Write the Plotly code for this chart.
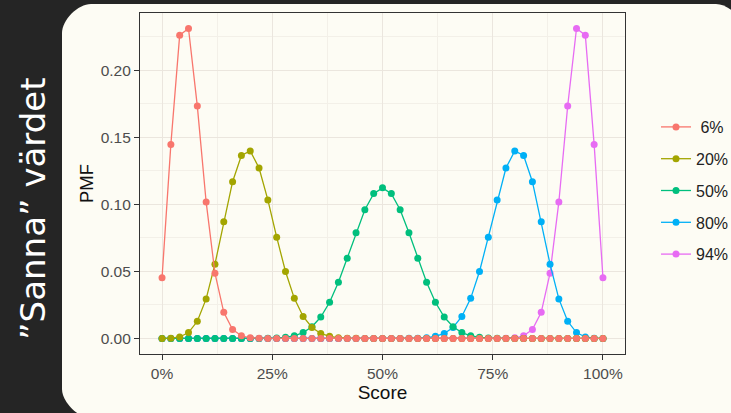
import plotly.graph_objects as go

# Binomial PMF of the score (n = 50 items) for five true values
score = [0, 2, 4, 6, 8, 10, 12, 14, 16, 18, 20, 22, 24, 26, 28, 30, 32, 34, 36, 38,
         40, 42, 44, 46, 48, 50, 52, 54, 56, 58, 60, 62, 64, 66, 68, 70, 72, 74, 76, 78,
         80, 82, 84, 86, 88, 90, 92, 94, 96, 98, 100]

pmf_06 = [0.0453, 0.1447, 0.2262, 0.2311, 0.1733, 0.1018, 0.0487, 0.0195, 0.0067, 0.0020,
          0.0005, 0.0001, 0.0, 0.0, 0.0, 0.0, 0.0, 0.0, 0.0, 0.0,
          0.0, 0.0, 0.0, 0.0, 0.0, 0.0, 0.0, 0.0, 0.0, 0.0,
          0.0, 0.0, 0.0, 0.0, 0.0, 0.0, 0.0, 0.0, 0.0, 0.0,
          0.0, 0.0, 0.0, 0.0, 0.0, 0.0, 0.0, 0.0, 0.0, 0.0, 0.0]

pmf_20 = [0.0000, 0.0002, 0.0011, 0.0044, 0.0128, 0.0295, 0.0554, 0.0870, 0.1169, 0.1364,
          0.1398, 0.1271, 0.1033, 0.0755, 0.0499, 0.0299, 0.0164, 0.0082, 0.0037, 0.0016,
          0.0006, 0.0002, 0.0001, 0.0, 0.0, 0.0, 0.0, 0.0, 0.0, 0.0,
          0.0, 0.0, 0.0, 0.0, 0.0, 0.0, 0.0, 0.0, 0.0, 0.0,
          0.0, 0.0, 0.0, 0.0, 0.0, 0.0, 0.0, 0.0, 0.0, 0.0, 0.0]

pmf_50 = [0.0, 0.0, 0.0, 0.0, 0.0, 0.0, 0.0, 0.0, 0.0, 0.0,
          0.0, 0.0, 0.0001, 0.0003, 0.0008, 0.0020, 0.0044, 0.0087, 0.0160, 0.0270,
          0.0419, 0.0598, 0.0788, 0.0960, 0.1080, 0.1123, 0.1080, 0.0960, 0.0788, 0.0598,
          0.0419, 0.0270, 0.0160, 0.0087, 0.0044, 0.0020, 0.0008, 0.0003, 0.0001, 0.0,
          0.0, 0.0, 0.0, 0.0, 0.0, 0.0, 0.0, 0.0, 0.0, 0.0, 0.0]

pmf_80 = [0.0, 0.0, 0.0, 0.0, 0.0, 0.0, 0.0, 0.0, 0.0, 0.0,
          0.0, 0.0, 0.0, 0.0, 0.0, 0.0, 0.0, 0.0, 0.0, 0.0,
          0.0, 0.0, 0.0, 0.0, 0.0, 0.0, 0.0, 0.0, 0.0001, 0.0002,
          0.0006, 0.0016, 0.0037, 0.0082, 0.0164, 0.0299, 0.0499, 0.0755, 0.1033, 0.1271,
          0.1398, 0.1364, 0.1169, 0.0870, 0.0554, 0.0295, 0.0128, 0.0044, 0.0011, 0.0002, 0.0000]

pmf_94 = [0.0, 0.0, 0.0, 0.0, 0.0, 0.0, 0.0, 0.0, 0.0, 0.0,
          0.0, 0.0, 0.0, 0.0, 0.0, 0.0, 0.0, 0.0, 0.0, 0.0,
          0.0, 0.0, 0.0, 0.0, 0.0, 0.0, 0.0, 0.0, 0.0, 0.0,
          0.0, 0.0, 0.0, 0.0, 0.0, 0.0, 0.0, 0.0, 0.0, 0.0001,
          0.0005, 0.0020, 0.0067, 0.0195, 0.0487, 0.1018, 0.1733, 0.2311, 0.2262, 0.1447, 0.0453]

series_names = [" 6%", "20%", "50%", "80%", "94%"]
series_values = [pmf_06, pmf_20, pmf_50, pmf_80, pmf_94]
series_colors = ["#F8766D", "#A3A500", "#00BF7D", "#00B0F6", "#E76BF3"]

x_ticks = [0, 25, 50, 75, 100]
x_ticklabels = ["0%", "25%", "50%", "75%", "100%"]
y_ticks = [0.00, 0.05, 0.10, 0.15, 0.20]
y_ticklabels = ["0.00", "0.05", "0.10", "0.15", "0.20"]

W, H = 731, 413
ML, MR, MT, MB = 140, 106, 13, 59
PW, PH = W - ML - MR, H - MT - MB

DARK = "#252525"
CREAM = "#FDFCF4"
FONT = "Liberation Sans, Arial, sans-serif"


def px(xp):
    return (xp - ML) / PW


def py(yp):
    return (H - MB - yp) / PH


def pt(xp, yp):
    return f"{px(xp)},{py(yp)}"


fig = go.Figure()

# draw in reverse so the 6% curve sits on top, legend keeps ascending order
for rank in reversed(range(len(series_names))):
    fig.add_trace(go.Scatter(
        x=score, y=series_values[rank], name=series_names[rank],
        mode="lines+markers",
        line=dict(color=series_colors[rank], width=1.3),
        marker=dict(color=series_colors[rank], size=7),
        legendrank=rank + 1, legendgroup=series_names[rank],
    ))

# rounded cream card behind the chart (bottom-right runs off the page)
x0, y0, x1, y1, r = 62, 4, 745, 418, 29
k = 0.45 * r
card = (f"M {pt(x0, y0 + r)} "
        f"C {pt(x0, y0 + r - k)} {pt(x0 + r - k, y0)} {pt(x0 + r, y0)} "
        f"L {pt(x1 - r, y0)} "
        f"C {pt(x1 - r + k, y0)} {pt(x1, y0 + r - k)} {pt(x1, y0 + r)} "
        f"L {pt(x1, y1)} "
        f"L {pt(x0 + r, y1)} "
        f"C {pt(x0 + r - k, y1)} {pt(x0, y1 - r + k)} {pt(x0, y1 - r)} Z")
fig.add_shape(type="path", path=card, xref="paper", yref="paper",
              fillcolor=CREAM, line=dict(width=0), layer="below")

fig.add_annotation(text="\u201dSanna\u201d v\u00e4rdet", textangle=-90,
                   x=px(33), y=py(209), xref="paper", yref="paper",
                   xanchor="center", yanchor="middle",
                   showarrow=False,
                   font=dict(family="DejaVu Sans, sans-serif", size=34, color="white"))

axis_common = dict(
    showline=True, mirror=True, linecolor="#333333", linewidth=1.2,
    ticks="outside", ticklen=5, tickcolor="#333333", tickwidth=1,
    gridcolor="#EBE6DE", gridwidth=1, zeroline=False,
    tickfont=dict(family=FONT, size=15.5, color="#4D4D4D"),
)

fig.update_xaxes(
    range=[-5, 105], tickvals=x_ticks, ticktext=x_ticklabels,
    title=dict(text="Score", font=dict(family=FONT, size=19, color="#111111"), standoff=4),
    minor=dict(tickvals=[12.5, 37.5, 62.5, 87.5], showgrid=True,
               gridcolor="#F3F0E8", gridwidth=1, ticks=""),
    **axis_common,
)
fig.update_yaxes(
    range=[-0.0116, 0.2427], tickvals=y_ticks, ticktext=y_ticklabels,
    title=dict(text="PMF", font=dict(family=FONT, size=18.5, color="#111111"), standoff=2),
    minor=dict(tickvals=[0.025, 0.075, 0.125, 0.175, 0.225], showgrid=True,
               gridcolor="#F3F0E8", gridwidth=1, ticks=""),
    **axis_common,
)

fig.update_layout(
    width=W, height=H,
    margin=dict(l=ML, r=MR, t=MT, b=MB, autoexpand=False),
    paper_bgcolor=DARK, plot_bgcolor="rgba(0,0,0,0)",
    showlegend=True,
    legend=dict(x=px(656), y=py(110), xanchor="left", yanchor="top",
                font=dict(family=FONT, size=16, color="#222222"),
                bgcolor="rgba(0,0,0,0)", tracegroupgap=8, traceorder="grouped"),
)

fig.write_html("out.html")
